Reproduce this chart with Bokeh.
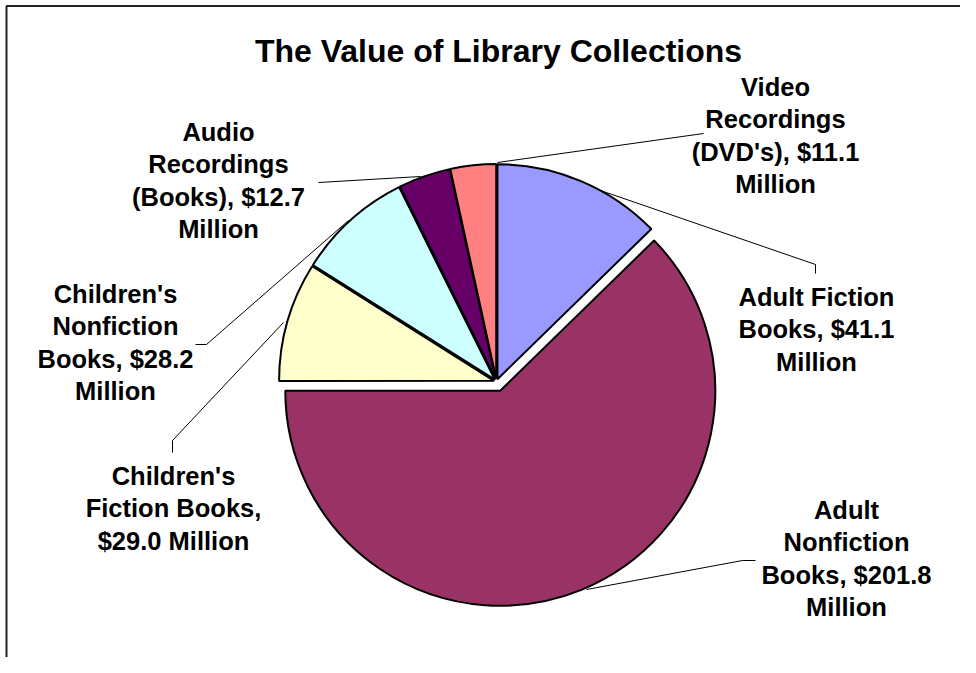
import numpy as np
from bokeh.plotting import figure
from bokeh.models import Range1d, ColumnDataSource
from bokeh.core.properties import value
from bokeh.embed import file_html
from bokeh.resources import INLINE

# ---------------- data ----------------
categories = ["Adult Fiction Books", "Adult Nonfiction Books", "Children's Fiction Books",
              "Children's Nonfiction Books", "Audio Recordings (Books)", "Video Recordings (DVD's)"]
values = [41.1, 201.8, 29.0, 28.2, 12.7, 11.1]   # $ million
label_texts = [
    "Adult Fiction\nBooks, $41.1\nMillion",
    "Adult\nNonfiction\nBooks, $201.8\nMillion",
    "Children's\nFiction Books,\n$29.0 Million",
    "Children's\nNonfiction\nBooks, $28.2\nMillion",
    "Audio\nRecordings\n(Books), $12.7\nMillion",
    "Video\nRecordings\n(DVD's), $11.1\nMillion",
]
title_text = "The Value of Library Collections"

# ---------------- style / layout ----------------
colors = ["#9999FF", "#993366", "#FFFFCC", "#CCFFFF", "#660066", "#FF8080"]
W, H = 960, 657
FONT = "Liberation Sans"


def X(px):
    return px


def Y(py):
    return H - py


CX, CY = 496, 381          # pie centre (picture px)
R = 215                    # radius
explode = [2.5, 10, 2.5, 2.5, 2.5, 2.5]
label_pos = [(816, 329), (846, 558), (173, 508), (115, 342), (218, 180), (775, 135)]
leaders = [
    [(600, 190), (815, 264), (815, 273)],
    [(586, 589), (742, 560), (755, 560)],
    [(283, 322), (172, 440), (172, 452)],
    [(348, 220), (206, 344), (195, 344)],
    [(420, 176), (318, 182)],
    [(497, 162), (703, 133)],
]

p = figure(width=W, height=H, output_backend="svg", toolbar_location=None,
           x_range=Range1d(0, W), y_range=Range1d(0, H),
           min_border=0, border_fill_color="white", background_fill_color="white")
p.axis.visible = False
p.grid.visible = False
p.outline_line_color = None

# frame (top and left edge of chart area)
p.line([X(6), X(6), X(960)], [Y(660), Y(5.5), Y(5.5)], line_color="#222222", line_width=2)

# pie wedges, clockwise from 12 o'clock
vals = np.array(values)
frac = vals / vals.sum()
cum = np.concatenate([[0], np.cumsum(frac)]) * 360.0
th1, th2 = cum[:-1], cum[1:]
start = np.radians(90 - th2)
end = np.radians(90 - th1)
mid = (start + end) / 2
cx = CX + np.array(explode) * np.cos(mid)
cy = Y(CY) + np.array(explode) * np.sin(mid)

src = ColumnDataSource(dict(x=cx, y=cy, start=start, end=end, color=colors, cat=categories, val=values))
p.wedge(x="x", y="y", radius=R, start_angle="start", end_angle="end", direction="anticlock",
        fill_color="color", line_color="black", line_width=2, source=src)

# leader lines
for pts in leaders:
    p.line([X(a) for a, b in pts], [Y(b) for a, b in pts], line_color="black", line_width=1)

# labels
p.text(x=[X(a) for a, b in label_pos], y=[Y(b) for a, b in label_pos], text=label_texts,
       text_font=value(FONT), text_font_style="bold", text_font_size="25.5px",
       text_align="center", text_baseline="middle", text_line_height=1.15, text_color="black")

# title
p.text(x=[X(498)], y=[Y(50)], text=[title_text], text_font=value(FONT), text_font_style="bold",
       text_font_size="32px", text_align="center", text_baseline="middle", text_color="black")

open("out.html", "w").write(file_html(p, INLINE))
